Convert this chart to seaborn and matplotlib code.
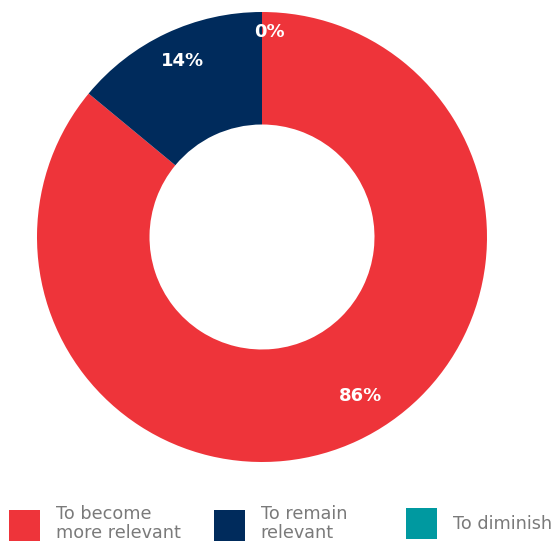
import matplotlib
matplotlib.use("Agg")
import matplotlib.pyplot as plt
from matplotlib.patches import Patch
import seaborn as sns
import numpy as np

categories = ["To become\nmore relevant", "To remain\nrelevant", "To diminish"]
values = [86, 14, 0]
pct_labels = ["86%", "14%", "0%"]
colors = ["#EE343A", "#002B5C", "#0099A0"]

sns.set_theme(style="white")
plt.rcParams['font.family'] = ['DejaVu Sans']

fig = plt.figure(figsize=(5.57, 5.44), dpi=100)
ax = fig.add_axes([37/557, 82/544, 450/557, 450/544])

wedges, _ = ax.pie(values, colors=colors, startangle=90, counterclock=False,
                   radius=1.0, wedgeprops=dict(width=0.5, edgecolor="none"))

# percentage labels near wedge mid-angles
dists = [0.83, 0.86, 0.91]
offsets = [6.5, -1.0, -2.2]
for w, lab, d, o in zip(wedges, pct_labels, dists, offsets):
    ang = np.deg2rad((w.theta1 + w.theta2) / 2 + o)
    ax.text(d * np.cos(ang), d * np.sin(ang), lab, ha="center", va="center",
            color="white", fontsize=13, fontweight="bold")

ax.set_xlim(-1, 1)
ax.set_ylim(-1, 1)
ax.set_aspect("equal")
ax.axis("off")

xs = [9/557, 214/557, 406/557]
for cat, col, x in zip(categories, colors, xs):
    h = Patch(facecolor=col, edgecolor="none")
    leg = fig.legend([h], [cat], loc="center left", bbox_to_anchor=(x, 20.5/544),
                     frameon=False, fontsize=12.7, handlelength=1.76, handleheight=2.33,
                     handletextpad=0.88, borderpad=0, borderaxespad=0,
                     labelspacing=0)
    for t in leg.get_texts():
        t.set_color("#7a7a7a")
        t.set_linespacing(1.08)

fig.savefig("out.png", dpi=100)
